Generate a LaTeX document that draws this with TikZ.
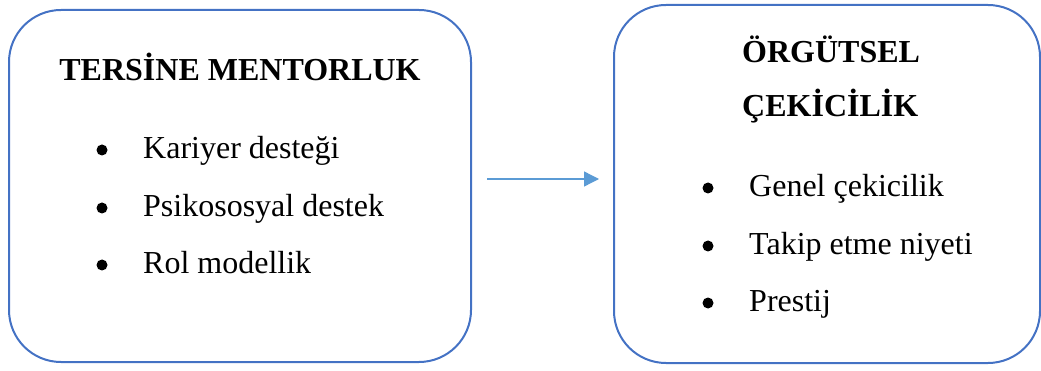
\documentclass[tikz,border=0pt]{standalone}
\usepackage{fontspec}
\setmainfont{Liberation Serif}
\usetikzlibrary{arrows.meta}
\definecolor{boxblue}{HTML}{4472C4}
\definecolor{arrowblue}{HTML}{5B9BD5}
\tikzset{
  panel/.style={draw=boxblue, line width=2pt, rounded corners=52pt, inner sep=0pt},
  txt/.style={font=\fontsize{32pt}{38pt}\selectfont, inner sep=0pt, text=black},
  head/.style={txt, font=\fontsize{32pt}{38pt}\selectfont\bfseries},
  item/.style={txt, anchor=base west},
  dot/.style={circle, fill=black, inner sep=0pt, minimum size=11pt},
  link/.style={draw=arrowblue, line width=1.3pt, -{Triangle[length=15pt,width=15pt]}}
}
\begin{document}
\begin{tikzpicture}[x=1pt, y=-1pt]
\useasboundingbox (0,0) rectangle (1041,371);

% left panel: reverse mentoring
\node[panel, minimum width=462pt, minimum height=352pt] (L) at (240,186) {};
\node[head, anchor=base] (Lt) at (240,81) {TERSİNE MENTORLUK};
\node[dot] (Ld1) at (102,150) {};
\node[item] (Li1) at (143,159) {Kariyer desteği};
\node[dot] (Ld2) at (102,208) {};
\node[item] (Li2) at (143,217) {Psikososyal destek};
\node[dot] (Ld3) at (102,265) {};
\node[item] (Li3) at (143,274) {Rol modellik};

% right panel: organisational attractiveness
\node[panel, minimum width=426pt, minimum height=358pt] (R) at (827,184) {};
\node[head, anchor=base west] (Rt1) at (742,63) {ÖRGÜTSEL};
\node[head, anchor=base west] (Rt2) at (742,117) {ÇEKİCİLİK};
\node[dot] (Rd1) at (708,188) {};
\node[item] (Ri1) at (749,197) {Genel çekicilik};
\node[dot] (Rd2) at (708,246) {};
\node[item] (Ri2) at (749,255) {Takip etme niyeti};
\node[dot] (Rd3) at (708,303) {};
\node[item] (Ri3) at (749,312) {Prestij};

% connector between the panels
\coordinate (as) at (487,179);
\coordinate (ae) at (599,179);
\draw[link] (as) -- (ae);
\end{tikzpicture}
\end{document}
